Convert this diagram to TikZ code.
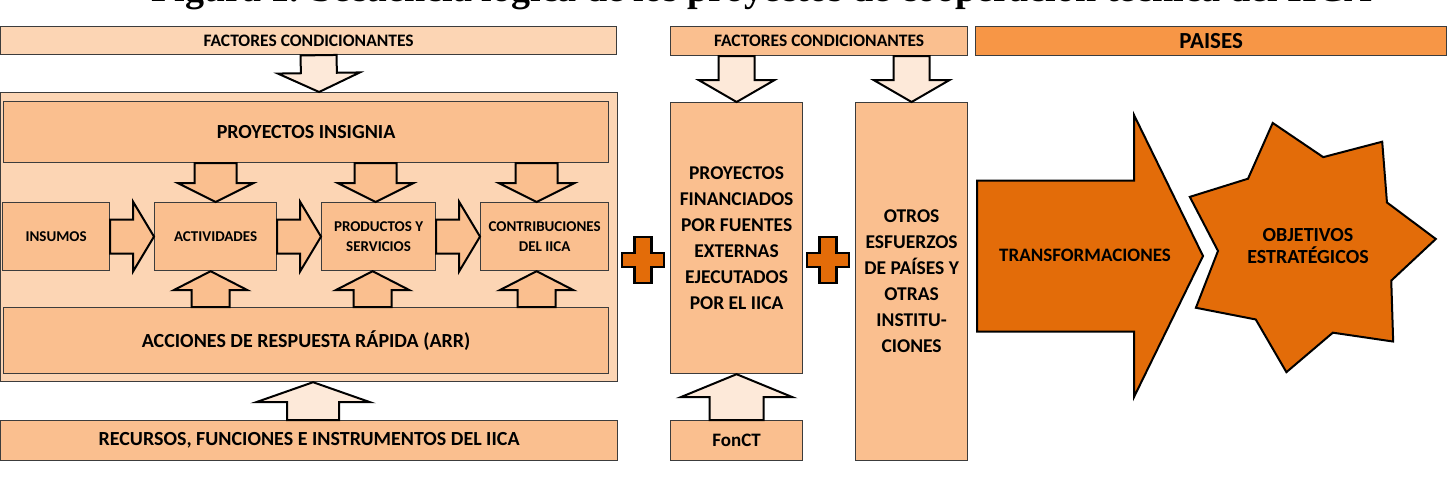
\documentclass[tikz,border=0pt]{standalone}
\usepackage{fontspec}
\setmainfont{Carlito}
\newfontfamily\titlefont{Liberation Serif}
\usetikzlibrary{calc,shapes.geometric}
\definecolor{IICAPale}{HTML}{FDE9D9}
\definecolor{IICALight}{HTML}{FCD5B4}
\definecolor{IICAPeach}{HTML}{FABF8F}
\definecolor{IICAOrange}{HTML}{F79646}
\definecolor{IICADark}{HTML}{E36C09}
\definecolor{IICALine}{HTML}{3C3C3C}
\newcommand{\fsz}[2]{\fontsize{#1}{#2}\selectfont}
% block arrow: [style]{tail}{tip}{shaft half width}{head half width}{head length}
\newcommand{\blockarrow}[6][]{%
  \path let \p1=($(#3)-(#2)$) in
    \pgfextra{\pgfmathsetmacro\tmpa{atan2(\y1,\x1)}\global\let\barot\tmpa
              \pgfmathsetmacro\tmpb{veclen(\x1,\y1)}\global\let\balen\tmpb};
  \draw[#1, shift={(#2)}, rotate=\barot]
    (0,{-#4}) -- ({\balen-#6},{-#4}) -- ({\balen-#6},{-#5}) -- (\balen,0)
    -- ({\balen-#6},{#5}) -- ({\balen-#6},{#4}) -- (0,{#4}) -- cycle;
}
% plus sign round a named coordinate
\newcommand{\plussign}[1]{%
  \draw[plusmark, shift={(#1)}] (-8.5,-23) -- (8.5,-23) -- (8.5,-7) -- (21,-7)
    -- (21,7) -- (8.5,7) -- (8.5,23) -- (-8.5,23) -- (-8.5,7) -- (-21,7)
    -- (-21,-7) -- (-8.5,-7) -- cycle;
}

\begin{document}
\begin{tikzpicture}[x=1pt, y=-1pt,
  box/.style={draw=IICALine, line width=1.2pt, fill=IICAPeach, inner sep=0pt,
    anchor=north west, align=center, text=black, font=\bfseries\fsz{20}{26}},
  small/.style={box, minimum height=68pt, font=\bfseries\fsz{15}{19.5}},
  barrow/.style={draw=black, line width=2pt, line join=miter, fill=IICAPeach},
  palearrow/.style={barrow, fill=IICAPale},
  bigarrow/.style={barrow, fill=IICADark},
  plusmark/.style={draw=black, line width=2.2pt, line join=miter, fill=IICADark},
]
  \useasboundingbox (0,0) rectangle (1448,490);

  \node[anchor=base west, font=\titlefont\bfseries\fsz{38}{42}] (title) at (148,1.5)
    {Figura 1. Secuencia lógica de los proyectos de cooperación técnica del IICA};

  % top bars
  \node[box, fill=IICALight, minimum width=616pt, minimum height=28pt,
    font=\bfseries\fsz{17.5}{21}] (fc1) at (0,26) {FACTORES CONDICIONANTES};
  \node[box, minimum width=297pt, minimum height=29pt,
    font=\bfseries\fsz{17.5}{21}] (fc2) at (670,26) {FACTORES CONDICIONANTES};
  \node[box, fill=IICAOrange, minimum width=471pt, minimum height=29pt,
    font=\bfseries\fsz{23}{27}] (paises) at (975,26) {PAISES};

  % IICA block
  \node[box, fill=IICALight, minimum width=617pt, minimum height=289pt] (cont) at (0,92) {};
  \node[box, minimum width=605pt, minimum height=61pt] (pi) at (3,101) {PROYECTOS INSIGNIA};
  \node[small, minimum width=107pt] (ins) at (2,202) {INSUMOS};
  \node[small, minimum width=122pt] (act) at (154,202) {ACTIVIDADES};
  \node[small, minimum width=114pt] (prod) at (321,202) {PRODUCTOS Y\\SERVICIOS};
  \node[small, minimum width=128pt] (contr) at (480,202) {CONTRIBUCIONES\\DEL IICA};
  \node[box, minimum width=605pt, minimum height=66pt] (arr) at (3,307)
    {ACCIONES DE RESPUESTA RÁPIDA (ARR)};
  \node[box, minimum width=617pt, minimum height=40pt] (rec) at (0,420)
    {RECURSOS, FUNCIONES E INSTRUMENTOS DEL IICA};

  % external projects and other efforts
  \node[box, minimum width=132pt, minimum height=271pt, font=\bfseries\fsz{19.5}{26}] (pf) at (670,102)
    {PROYECTOS\\FINANCIADOS\\POR FUENTES\\EXTERNAS\\EJECUTADOS\\POR EL IICA};
  \node[box, minimum width=132pt, minimum height=40pt, font=\bfseries\fsz{19}{23}] (fonct) at (670,420) {FonCT};
  \node[box, minimum width=112pt, minimum height=358pt, font=\bfseries\fsz{19.5}{26}] (otros) at (855,102)
    {OTROS\\ESFUERZOS\\DE PAÍSES Y\\OTRAS\\INSTITU-\\CIONES};

  % arrows into and inside the IICA block
  \blockarrow[palearrow]{[xshift=10pt]fc1.south}{[xshift=10pt]cont.north}{18}{41}{19}
  \blockarrow[palearrow]{pf.north |- fc2.south}{pf.north}{18}{38}{22}
  \blockarrow[palearrow]{otros.north |- fc2.south}{otros.north}{18}{38}{22}
  \blockarrow[barrow]{act.north |- pi.south}{act.north}{21}{38}{19}
  \blockarrow[barrow]{[xshift=-3pt]prod.north |- pi.south}{[xshift=-3pt]prod.north}{21}{38}{19}
  \blockarrow[barrow]{[xshift=-8pt]contr.north |- pi.south}{[xshift=-8pt]contr.north}{21}{38}{19}
  \blockarrow[barrow]{[xshift=-5pt]act.south |- arr.north}{[xshift=-5pt]act.south}{19}{37}{19}
  \blockarrow[barrow]{[xshift=-6pt]prod.south |- arr.north}{[xshift=-6pt]prod.south}{19}{37}{19}
  \blockarrow[barrow]{[xshift=-8pt]contr.south |- arr.north}{[xshift=-8pt]contr.south}{19}{37}{19}
  \blockarrow[barrow]{ins.east}{act.west}{17}{35}{21}
  \blockarrow[barrow]{act.east}{prod.west}{17}{35}{21}
  \blockarrow[barrow]{prod.east}{contr.west}{17}{35}{21}
  \blockarrow[palearrow]{[xshift=4pt]rec.north}{[xshift=4pt]cont.south}{26}{57}{20}
  \blockarrow[palearrow]{fonct.north}{pf.south}{27}{56}{23}

  % plus signs
  \coordinate (plus1) at (643,260);
  \coordinate (plus2) at (828,260);
  \plussign{plus1}
  \plussign{plus2}

  % transformations and strategic objectives
  \coordinate (trtail) at (977,256);
  \coordinate (trtip) at (1203,256);
  \blockarrow[bigarrow]{trtail}{trtip}{75.5}{141}{69}
  \node[font=\bfseries\fsz{19}{23}] (trans) at (1085,255) {TRANSFORMACIONES};
  \node[star, star points=7, star point ratio=1.42, minimum size=256pt, inner sep=0pt,
    shape border rotate=16, draw=black, line width=2pt, fill=IICADark] (obj) at (1308,246) {};
  \node[font=\bfseries\fsz{20}{22}, align=center] (objtxt) at (obj.center) {OBJETIVOS\\ESTRATÉGICOS};
\end{tikzpicture}
\end{document}
